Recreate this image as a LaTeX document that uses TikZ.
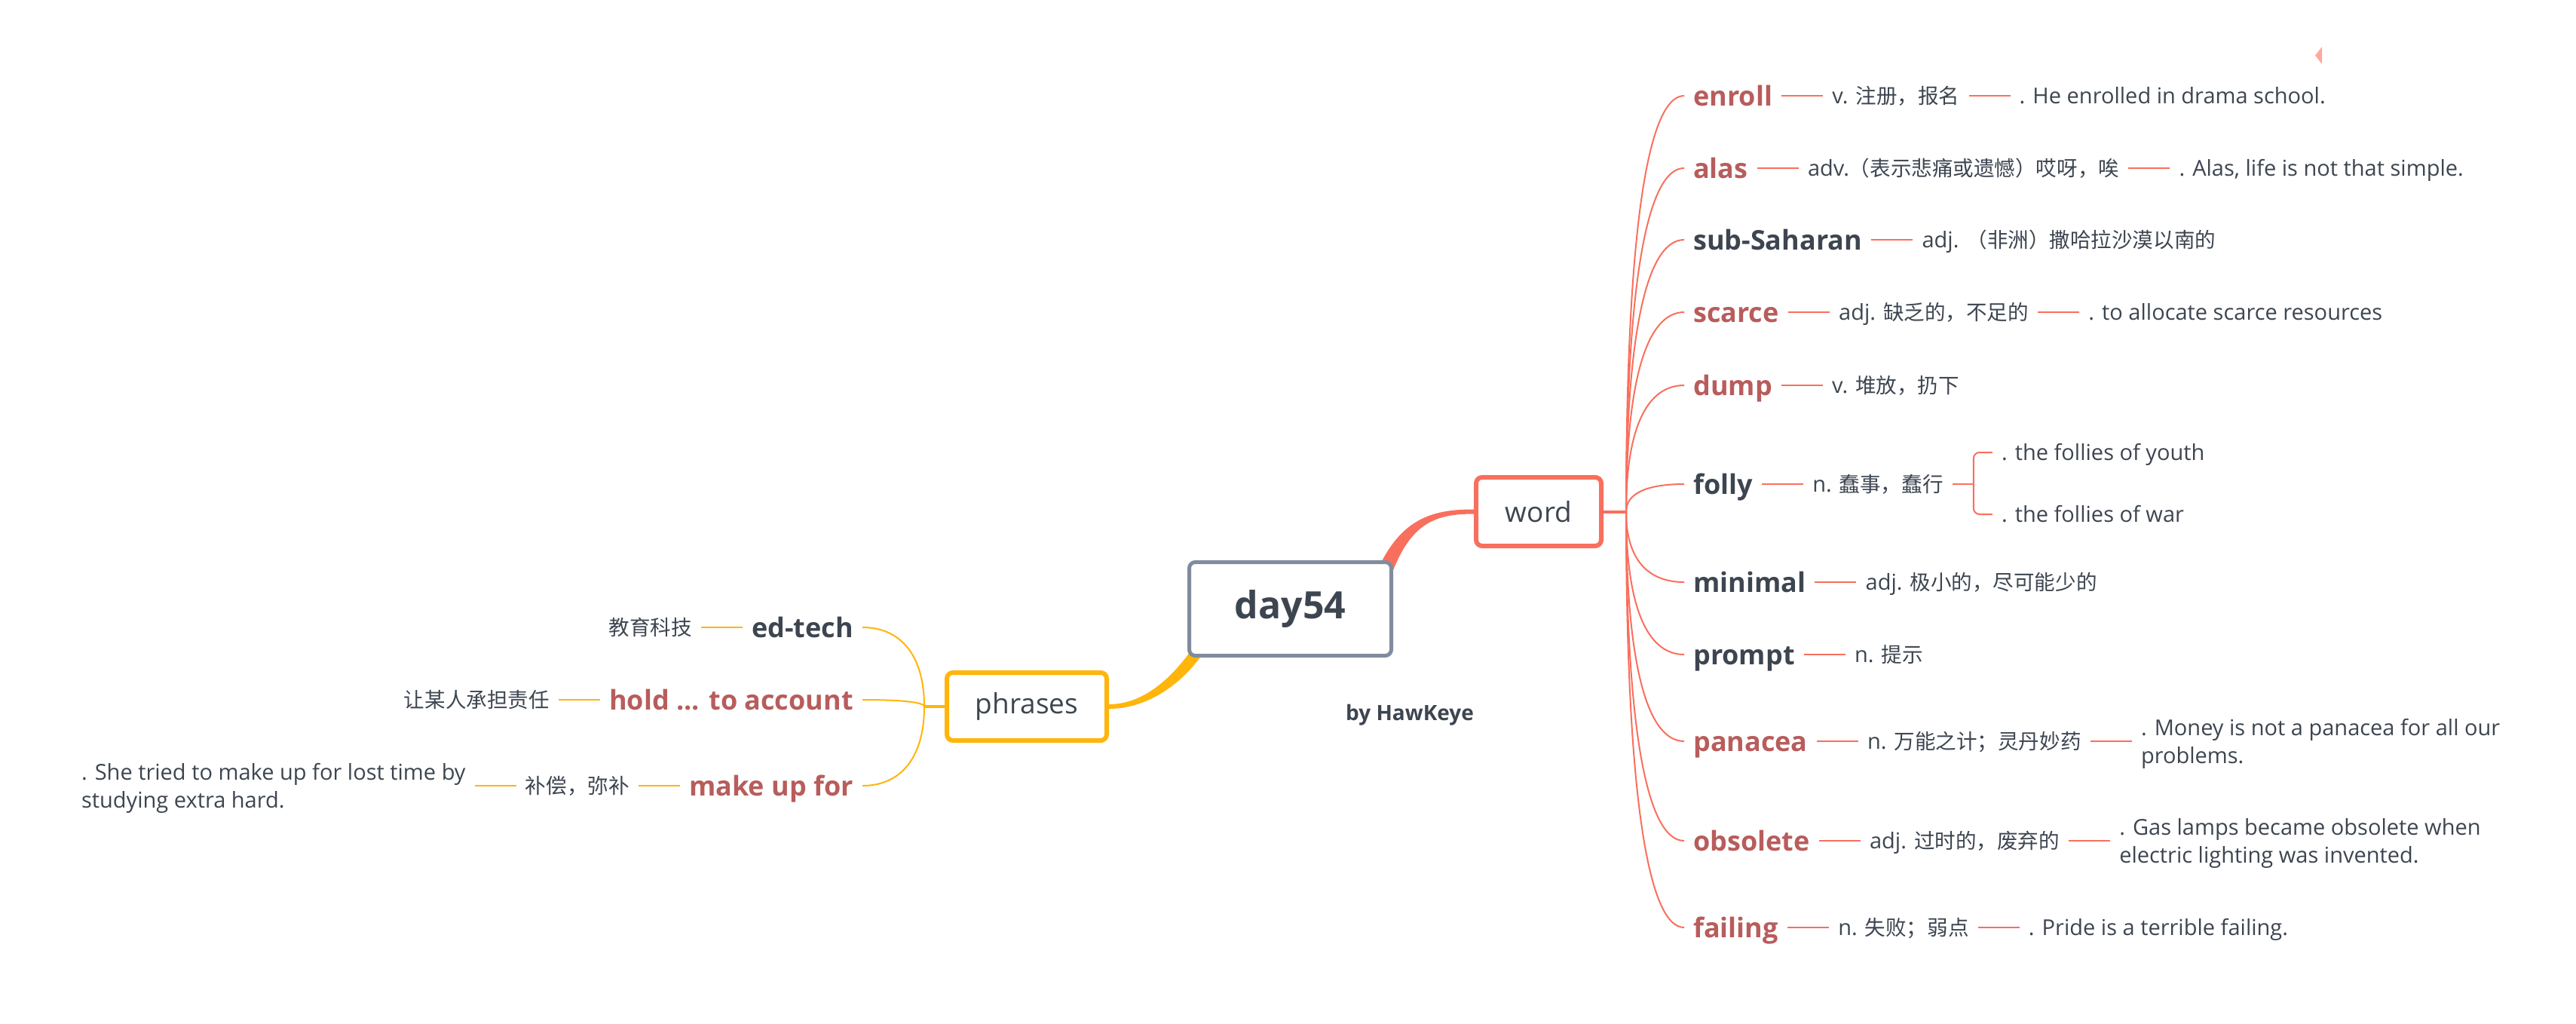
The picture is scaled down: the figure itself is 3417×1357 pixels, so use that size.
\documentclass[tikz,border=0pt]{standalone}
\usepackage{fontspec}
\setmainfont{Open Sans}
\newfontfamily\cjk[Scale=0.95]{Noto Sans CJK SC}
\usetikzlibrary{positioning,calc}
\definecolor{coral}{HTML}{F96F5D}
\definecolor{ylw}{HTML}{FFB50A}
\definecolor{greyb}{HTML}{808C9E}
\definecolor{redt}{HTML}{B85C5C}
\definecolor{darkt}{HTML}{3D4550}
\definecolor{pinkc}{HTML}{FFA89E}
\pgfdeclarelayer{bg}
\pgfsetlayers{bg,main}
\tikzset{
  kw/.style={inner xsep=12pt, inner ysep=0pt, text height=26pt, text depth=0pt,
    font=\bfseries\fontsize{36}{44}\selectfont, text=darkt},
  kwR/.style={kw, anchor=west},
  kwL/.style={kw, anchor=east},
  redw/.style={text=redt},
  desc/.style={inner xsep=12pt, inner ysep=0pt, text height=21pt, text depth=0pt,
    font=\fontsize{29}{37}\selectfont, text=darkt},
  desctwo/.style={inner xsep=12pt, inner ysep=0pt, text height=58pt, text depth=0pt,
    align=left, font=\fontsize{29}{37}\selectfont, text=darkt},
  mainbox/.style={draw, fill=white, rounded corners=8pt, line width=6pt,
    font=\fontsize{37}{44}\selectfont, text=darkt},
  rootbox/.style={draw=greyb, fill=white, rounded corners=8pt, line width=5pt,
    minimum width=268pt, minimum height=124pt,
    font=\bfseries\fontsize{50}{60}\selectfont, text=darkt},
  wline/.style={draw=coral, line width=2pt},
  yline/.style={draw=ylw, line width=2pt},
}
\newcommand\rfan[1]{\draw[wline] (wfan) .. controls ($(wfan)!0.667!(wfan|-#1.west)$) and ($(#1.west)+(-49,0)$) .. (#1.west);}
\newcommand\lfan[1]{\draw[yline] (pfan) .. controls ($(pfan)!0.667!(pfan|-#1.east)$) and ($(#1.east)+(49,0)$) .. (#1.east);}
\begin{document}
\begin{tikzpicture}[x=1pt,y=-1pt]
\useasboundingbox (0,0) rectangle (3417,1357);

% main nodes
\node[rootbox] (day54) at (1711.5,807.5) {day54};
\node[mainbox, draw=coral, minimum width=166pt, minimum height=91pt] (word) at (2041,678.5) {word};
\node[mainbox, draw=ylw, minimum width=212pt, minimum height=90pt] (phrases) at (1362,937) {phrases};
\node[font=\bfseries\fontsize{28}{34}\selectfont, text=darkt] (by) at (1870,948) {by HawKeye};
\coordinate (wfan) at (2157,678.5);
\coordinate (pfan) at (1226,937);

% word branch
\node[kwR, redw] (enroll) at (2234,127) {enroll};
\node[desc, right=55pt of enroll] (enroll1) {v. {\cjk 注册，报名}};
\node[desc, right=55pt of enroll1] (enroll2) {. He enrolled in drama school.};

\node[kwR, redw] (alas) at (2234,223) {alas};
\node[desc, right=55pt of alas] (alas1) {adv.{\cjk （表示悲痛或遗憾）哎呀，唉}};
\node[desc, right=55pt of alas1] (alas2) {. Alas, life is not that simple.};

\node[kwR] (sub) at (2234,318) {sub-Saharan};
\node[desc, right=55pt of sub] (sub1) {adj. {\cjk （非洲）撒哈拉沙漠以南的}};

\node[kwR, redw] (scarce) at (2234,414) {scarce};
\node[desc, right=55pt of scarce] (scarce1) {adj. {\cjk 缺乏的，不足的}};
\node[desc, right=55pt of scarce1] (scarce2) {. to allocate scarce resources};

\node[kwR, redw] (dump) at (2234,511) {dump};
\node[desc, right=55pt of dump] (dump1) {v. {\cjk 堆放，扔下}};

\node[kwR] (folly) at (2234,642) {folly};
\node[desc, right=55pt of folly] (folly1) {n. {\cjk 蠢事，蠢行}};
\coordinate (fj) at ($(folly1.east)+(28,0)$);
\node[desc, anchor=west] (folly2) at ($(folly1.east)+(53,-42)$) {. the follies of youth};
\node[desc, anchor=west] (folly3) at ($(folly1.east)+(53,40)$) {. the follies of war};

\node[kwR] (minimal) at (2234,772) {minimal};
\node[desc, right=55pt of minimal] (minimal1) {adj. {\cjk 极小的，尽可能少的}};

\node[kwR] (prompt) at (2234,868) {prompt};
\node[desc, right=55pt of prompt] (prompt1) {n. {\cjk 提示}};

\node[kwR, redw] (panacea) at (2234,983) {panacea};
\node[desc, right=55pt of panacea] (panacea1) {n. {\cjk 万能之计；灵丹妙药}};
\node[desctwo, right=55pt of panacea1] (panacea2) {. Money is not a panacea for all our\\problems.};

\node[kwR, redw] (obsolete) at (2234,1115) {obsolete};
\node[desc, right=55pt of obsolete] (obsolete1) {adj. {\cjk 过时的，废弃的}};
\node[desctwo, right=55pt of obsolete1] (obsolete2) {. Gas lamps became obsolete when\\electric lighting was invented.};

\node[kwR, redw] (failing) at (2234,1230) {failing};
\node[desc, right=55pt of failing] (failing1) {n. {\cjk 失败；弱点}};
\node[desc, right=55pt of failing1] (failing2) {. Pride is a terrible failing.};

% phrases branch
\node[kwL] (edtech) at (1144,832) {ed-tech};
\node[desc, left=55pt of edtech] (edtech1) {{\cjk 教育科技}};

\node[kwL, redw] (hold) at (1144,928) {hold ... to account};
\node[desc, left=55pt of hold] (hold1) {{\cjk 让某人承担责任}};

\node[kwL, redw] (makeup) at (1144,1042) {make up for};
\node[desc, left=55pt of makeup] (makeup1) {{\cjk 补偿，弥补}};
\node[desctwo, left=55pt of makeup1] (makeup2) {. She tried to make up for lost time by\\studying extra hard.};

% small mark
\fill[pinkc] (3080,62) -- (3071,73.5) -- (3080,85) -- cycle;

\begin{pgfonlayer}{bg}
% thick tapered connectors
\fill[coral] ($(day54.north east)+(-18,7)$) .. controls ($(word.west)+(-94,8)$) and ($(word.west)+(-53,-3)$) .. ($(word.west)+(0,-3)$)
  -- ($(word.west)+(0,3)$) .. controls ($(word.west)+(-52,3)$) and ($(word.west)+(-82,16)$) .. ($(day54.north east)+(0,13)$) -- cycle;
\fill[ylw] ($(day54.south west)+(8.5,-14.5)$) .. controls ($(day54.south west)+(-15.5,20.5)$) and ($(phrases.east)+(50,-3)$) .. ($(phrases.east)+(0,-3)$)
  -- ($(phrases.east)+(0,3)$) .. controls ($(phrases.east)+(54,3)$) and ($(day54.south west)+(-1.5,30.5)$) .. ($(day54.south west)+(24.5,-11.5)$) -- cycle;

% stubs
\draw[wline, line width=4pt] (word.east) -- (wfan);
\draw[yline, line width=4pt] (phrases.west) -- (pfan);

% fans
\rfan{enroll}\rfan{alas}\rfan{sub}\rfan{scarce}\rfan{dump}\rfan{folly}
\rfan{minimal}\rfan{prompt}\rfan{panacea}\rfan{obsolete}\rfan{failing}
\lfan{edtech}\lfan{hold}\lfan{makeup}

% chain lines
\draw[wline] (enroll.east) -- (enroll1.west);
\draw[wline] (enroll1.east) -- (enroll2.west);
\draw[wline] (alas.east) -- (alas1.west);
\draw[wline] (alas1.east) -- (alas2.west);
\draw[wline] (sub.east) -- (sub1.west);
\draw[wline] (scarce.east) -- (scarce1.west);
\draw[wline] (scarce1.east) -- (scarce2.west);
\draw[wline] (dump.east) -- (dump1.west);
\draw[wline] (folly.east) -- (folly1.west);
\draw[wline] (folly1.east) -- (fj);
\draw[wline, rounded corners=8pt] (fj) |- (folly2.west);
\draw[wline, rounded corners=8pt] (fj) |- (folly3.west);
\draw[wline] (minimal.east) -- (minimal1.west);
\draw[wline] (prompt.east) -- (prompt1.west);
\draw[wline] (panacea.east) -- (panacea1.west);
\draw[wline] (panacea1.east) -- (panacea2.west);
\draw[wline] (obsolete.east) -- (obsolete1.west);
\draw[wline] (obsolete1.east) -- (obsolete2.west);
\draw[wline] (failing.east) -- (failing1.west);
\draw[wline] (failing1.east) -- (failing2.west);
\draw[yline] (edtech.west) -- (edtech1.east);
\draw[yline] (hold.west) -- (hold1.east);
\draw[yline] (makeup.west) -- (makeup1.east);
\draw[yline] (makeup1.west) -- (makeup2.east);
\end{pgfonlayer}
\end{tikzpicture}
\end{document}
